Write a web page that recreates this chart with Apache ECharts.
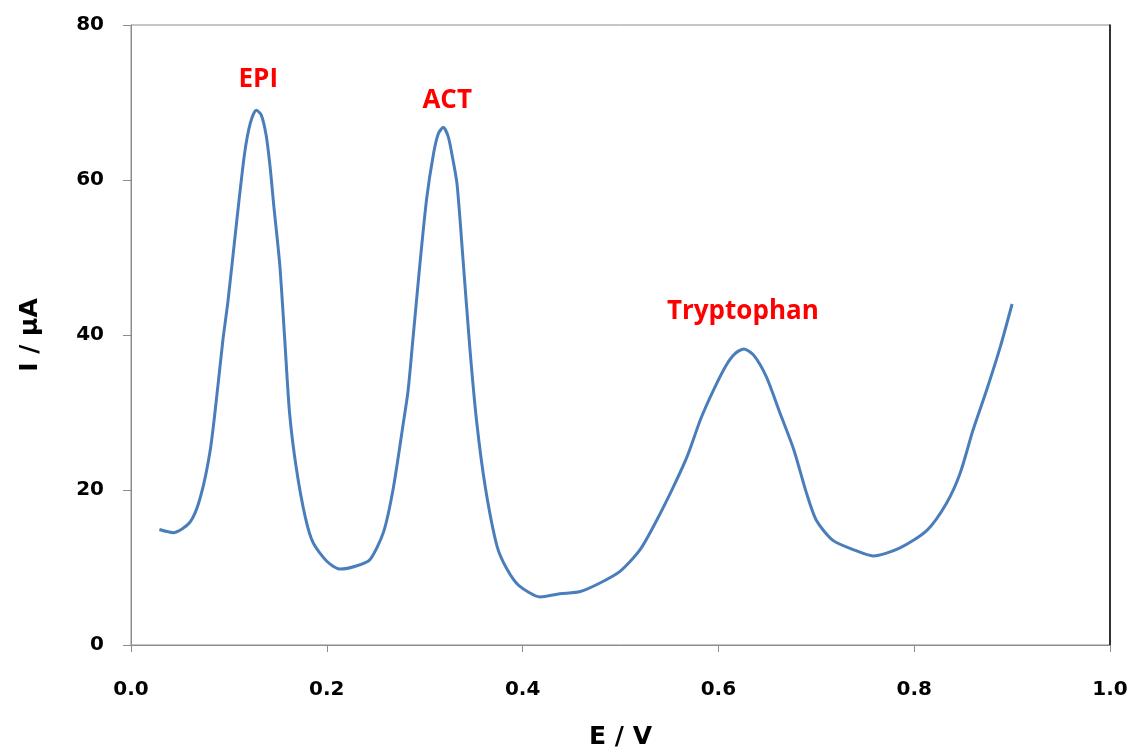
<!DOCTYPE html>
<html>
<head>
<meta charset="utf-8">
<script src="https://cdn.jsdelivr.net/npm/echarts@6/dist/echarts.min.js"></script>
<style>
  html, body { margin: 0; padding: 0; background: #fff; }
  #chart { width: 1132px; height: 756px; }
</style>
</head>
<body>
<div id="chart"></div>
<script>
// Differential pulse voltammogram: potential (V) and current (µA)
const potential = [
  0.029, 0.043, 0.060, 0.0705, 0.081, 0.089, 0.094, 0.099, 0.108, 0.116,
  0.122, 0.128, 0.133, 0.138, 0.142, 0.146, 0.152, 0.157, 0.162, 0.169,
  0.178, 0.186, 0.200, 0.2135, 0.230, 0.244, 0.258, 0.268, 0.278, 0.283,
  0.288, 0.295, 0.302, 0.309, 0.314, 0.319, 0.324, 0.328, 0.333, 0.339,
  0.346, 0.353, 0.362, 0.374, 0.384, 0.396, 0.418, 0.438, 0.459, 0.479,
  0.4995, 0.520, 0.537, 0.554, 0.568, 0.582, 0.595, 0.608, 0.617, 0.626,
  0.636, 0.649, 0.663, 0.677, 0.690, 0.700, 0.717, 0.740, 0.758, 0.785,
  0.813, 0.833, 0.847, 0.860, 0.874, 0.888, 0.900
];
const current = [
  14.9, 14.5, 15.8, 18.9, 25.2, 33.7, 39.5, 44.3, 54.7, 63.4,
  67.4, 69.0, 68.4, 65.8, 61.8, 56.5, 49.0, 39.5, 29.9, 22.7,
  16.5, 13.2, 10.8, 9.8, 10.2, 11.0, 14.6, 20.3, 28.5, 32.8,
  39.5, 49.0, 57.6, 63.4, 66.0, 66.8, 65.6, 63.2, 59.5, 50.0,
  38.5, 28.9, 20.3, 12.7, 9.8, 7.7, 6.2, 6.6, 6.9, 8.0,
  9.5, 12.3, 16.1, 20.4, 24.3, 29.2, 32.9, 36.1, 37.6, 38.2,
  37.4, 34.6, 29.9, 25.2, 19.6, 16.1, 13.5, 12.2, 11.5, 12.5,
  14.8, 18.3, 22.2, 27.7, 32.9, 38.5, 44.0
];

// Peak annotations (name, potential, current at label position)
const peakNames = ['EPI', 'ACT', 'Tryptophan'];
const peakE = [0.130, 0.323, 0.625];
const peakI = [72.9, 70.2, 43.0];

// Axis ticks
const xTicks = [0.0, 0.2, 0.4, 0.6, 0.8, 1.0];
const yTicks = [0, 20, 40, 60, 80];

const curve = potential.map((e, i) => [e, current[i]]);
const peaks = peakNames.map((n, i) => ({ name: n, value: [peakE[i], peakI[i]] }));

const tickFont = { fontFamily: 'DejaVu Sans', fontWeight: 'bold', fontSize: 20, color: '#000' };
const titleFont = { fontFamily: 'DejaVu Sans', fontWeight: 'bold', fontSize: 25, color: '#000' };

const chart = echarts.init(document.getElementById('chart'), null, { renderer: 'canvas' });
chart.setOption({
  animation: false,
  backgroundColor: '#fff',
  grid: {
    left: 131, right: 22, top: 25, bottom: 111,
    show: true, borderColor: '#8c8c8c', borderWidth: 1
  },
  xAxis: {
    type: 'value',
    min: xTicks[0], max: xTicks[xTicks.length - 1], interval: 0.2,
    name: 'E / V', nameLocation: 'middle', nameGap: 80,
    nameTextStyle: titleFont,
    axisLine: { lineStyle: { color: '#8c8c8c', width: 1 } },
    axisTick: { inside: false, length: 7, lineStyle: { color: '#8c8c8c' } },
    axisLabel: Object.assign({ margin: 35, formatter: v => v.toFixed(1) }, tickFont),
    splitLine: { show: false }
  },
  yAxis: [{
    type: 'value',
    min: yTicks[0], max: yTicks[yTicks.length - 1], interval: 20,
    name: 'I / µA', nameLocation: 'middle', nameGap: 88, nameRotate: 90,
    nameTextStyle: titleFont,
    axisLine: { show: true, lineStyle: { color: '#8c8c8c', width: 1 } },
    axisTick: { show: true, inside: false, length: 8, lineStyle: { color: '#8c8c8c' } },
    axisLabel: Object.assign({ margin: 27 }, tickFont),
    splitLine: { show: false }
  }, {
    type: 'value', position: 'right',
    min: yTicks[0], max: yTicks[yTicks.length - 1], interval: 20,
    axisLine: { show: true, lineStyle: { color: '#000', width: 1.5 } },
    axisTick: { show: false }, axisLabel: { show: false }, splitLine: { show: false }
  }],
  series: [{
    type: 'line',
    data: curve,
    smooth: 0.25,
    showSymbol: false,
    lineStyle: { color: '#4a7ebb', width: 3 },
    z: 3
  }, {
    type: 'scatter',
    data: peaks,
    symbolSize: 0,
    itemStyle: { opacity: 1 },
    label: {
      show: true, position: 'inside', opacity: 1,
      formatter: p => p.name,
      fontFamily: 'Open Sans', fontWeight: 'bold', fontSize: 26, color: '#ff0000'
    },
    z: 4
  }]
});
</script>
</body>
</html>
